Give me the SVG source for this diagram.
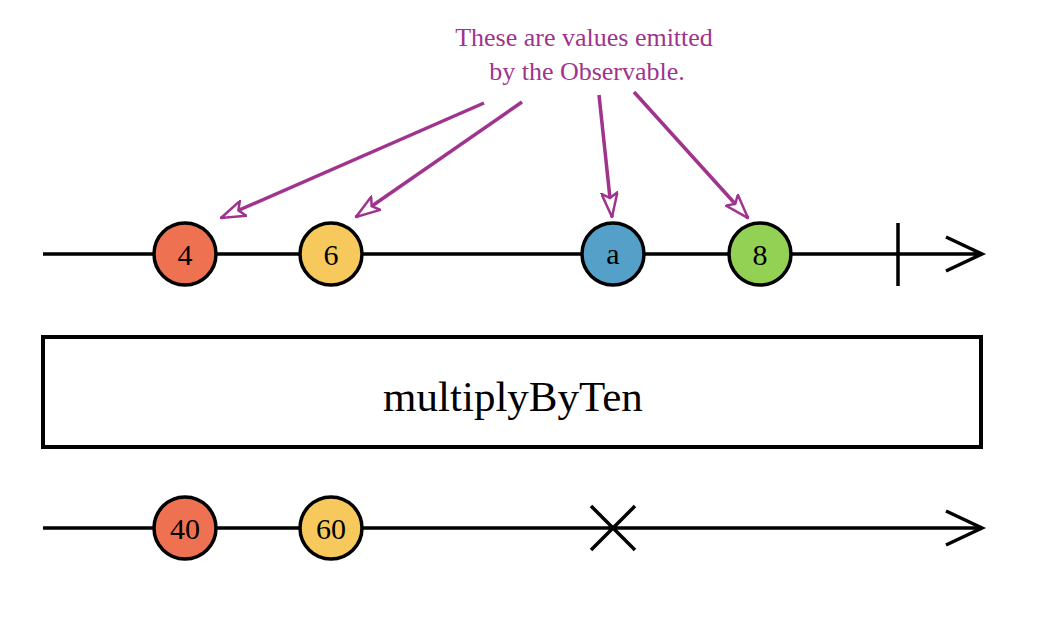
<svg xmlns="http://www.w3.org/2000/svg" width="1043" height="631" viewBox="0 0 1043 631">
<defs>
<style>
.line{stroke:#000;stroke-width:3.5;fill:none}
.node circle{stroke:#000;stroke-width:3.5}
.node text{font-family:"Liberation Serif",serif;font-size:30px;text-anchor:middle;fill:#000}
.ann{stroke:#A0338E;stroke-width:3.5;fill:none}
.note{font-family:"Liberation Serif",serif;font-size:26px;fill:#A0338E;text-anchor:middle}
</style>
<marker id="ah" viewBox="0 0 26 18" refX="25" refY="9" markerWidth="26" markerHeight="18" markerUnits="userSpaceOnUse" orient="auto">
<path d="M1,1 L25,9 L1,17 L6,9 Z" fill="#fff" stroke="#A0338E" stroke-width="2.5" stroke-linejoin="miter"/>
</marker>
</defs>
<rect width="1043" height="631" fill="#fff"/>
<g id="timelines">
<path class="line" d="M43,254 H982 M946,237 L982,254 L946,271 M898,223 V286"/>
<path class="line" d="M43,528 H982 M946,511 L982,528 L946,545 M591,506 L635,550 M635,506 L591,550"/>
</g>
<g id="operator">
<rect x="43" y="337" width="938" height="110" fill="#fff" stroke="#000" stroke-width="4"/>
<text x="513" y="411" font-family="'Liberation Serif',serif" font-size="43" text-anchor="middle">multiplyByTen</text>
</g>
<g id="n4" class="node"><circle cx="185" cy="254" r="31" fill="#EE7152"/><text x="185" y="265">4</text></g>
<g id="n6" class="node"><circle cx="331" cy="254" r="31" fill="#F7C95C"/><text x="331" y="265">6</text></g>
<g id="na" class="node"><circle cx="613" cy="254" r="31" fill="#55A0C8"/><text x="613" y="264">a</text></g>
<g id="n8" class="node"><circle cx="760" cy="254" r="31" fill="#93D155"/><text x="760" y="265">8</text></g>
<g id="n40" class="node"><circle cx="185" cy="528" r="31" fill="#EE7152"/><text x="185" y="539">40</text></g>
<g id="n60" class="node"><circle cx="331" cy="528" r="31" fill="#F7C95C"/><text x="331" y="539">60</text></g>
<g id="note">
<text class="note" x="584" y="46">These are values emitted</text>
<text class="note" x="587" y="80">by the Observable.</text>
</g>
<g id="connectors">
<line class="ann" x1="484" y1="103" x2="221" y2="218" marker-end="url(#ah)"/>
<line class="ann" x1="522" y1="102" x2="356" y2="217" marker-end="url(#ah)"/>
<line class="ann" x1="599" y1="95" x2="612" y2="217" marker-end="url(#ah)"/>
<line class="ann" x1="634" y1="92" x2="748" y2="218" marker-end="url(#ah)"/>
</g>
</svg>
